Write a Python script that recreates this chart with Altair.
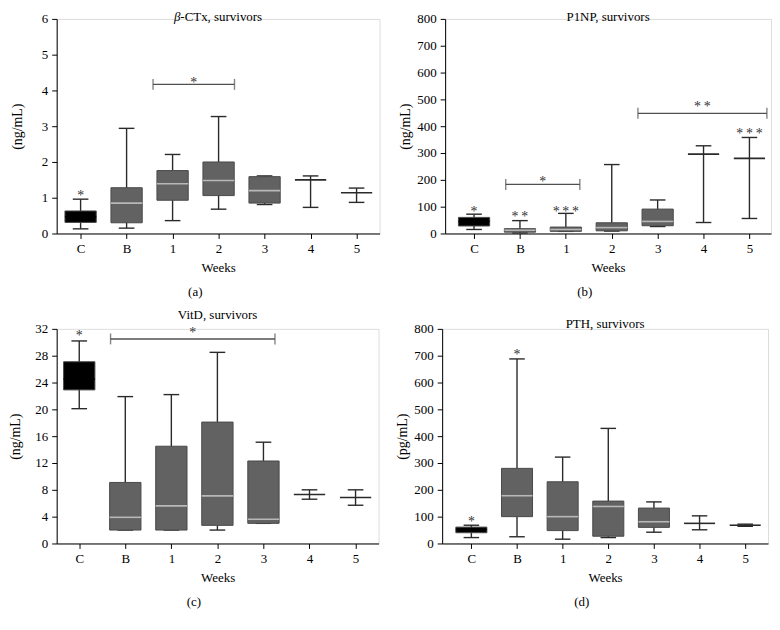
import altair as alt
import pandas as pd

FONT = "Liberation Serif"
groups = ["C", "B", "1", "2", "3", "4", "5"]

# (a) beta-CTx, survivors
a_low = [0.13, 0.15, 0.36, 0.68, 0.81, 0.73, 0.87]
a_q1 = [0.31, 0.30, 0.93, 1.06, 0.85, None, None]
a_med = [0.47, 0.85, 1.39, 1.48, 1.20, 1.50, 1.14]
a_q3 = [0.63, 1.28, 1.76, 2.00, 1.59, None, None]
a_high = [0.96, 2.94, 2.21, 3.27, 1.61, 1.61, 1.27]
a_star_pos = [0]
a_star_val = [1.13]
a_star_txt = ["*"]
a_br_from = [1.575]
a_br_to = [3.346]
a_br_val = [4.17]
a_br_star = [4.30]
a_br_txt = ["*"]

# (b) P1NP, survivors
b_low = [15, 2, 8, 9, 26, 41, 56]
b_q1 = [28, 5, 8, 10, 29, None, None]
b_med = [45, 12, 15, 22, 45, 296, 280]
b_q3 = [60, 18, 24, 40, 91, None, None]
b_high = [72, 48, 75, 257, 125, 327, 358]
b_star_pos = [0, 1, 2, 6]
b_star_val = [92, 74, 93, 383]
b_star_txt = ["*", "\u2009*\u2009*", "*\u2009*\u2009*", "*\u2009*\u2009*"]
b_br_from = [0.69, 3.57]
b_br_to = [2.305, 6.38]
b_br_val = [183, 448]
b_br_star = [204, 481]
b_br_txt = ["*", "*\u2009*"]

# (c) VitD, survivors
c_low = [20.1, 2.0, 2.0, 2.0, 3.0, 6.6, 5.7]
c_q1 = [22.9, 2.0, 2.0, 2.7, 3.0, None, None]
c_med = [24.5, 3.9, 5.6, 7.1, 3.6, 7.3, 6.85]
c_q3 = [27.1, 9.1, 14.5, 18.1, 12.3, None, None]
c_high = [30.2, 21.9, 22.2, 28.5, 15.1, 8.0, 8.0]
c_star_pos = [0]
c_star_val = [31.4]
c_star_txt = ["*"]
c_br_from = [0.68]
c_br_to = [4.25]
c_br_val = [30.5]
c_br_star = [31.9]
c_br_txt = ["*"]

# (d) PTH, survivors
d_low = [22, 25, 16, 22, 42, 51, 64]
d_q1 = [40, 100, 48, 27, 60, None, None]
d_med = [52, 178, 100, 138, 81, 75, 68]
d_q3 = [61, 280, 230, 158, 132, None, None]
d_high = [68, 688, 322, 429, 155, 103, 72]
d_star_pos = [0, 1]
d_star_val = [90, 713]
d_star_txt = ["*", "*"]

label_expr = "[" + ",".join("'%s'" % g for g in groups) + "][datum.value]"

BOX_FILL = "#626262"
MED_COL = "#b8b8b8"
WHISK = "#2a2a2a"
BRACKET = "#505050"
STAR = "#333333"


def panel(name, italic_prefix, ytitle, ymax, ystep, low, q1, med, q3, high,
          star_pos, star_val, star_txt, br_from, br_to, br_val, br_star, br_txt,
          xdom, width, name_y, ytitle_x, caption):
    height = 216
    df = pd.DataFrame({"pos": list(range(len(groups))), "grp": groups, "low": low,
                       "q1": q1, "med": med, "q3": q3, "high": high})
    base = alt.Chart(df).transform_calculate(
        left="datum.pos - 0.34", right="datum.pos + 0.34",
        cl="datum.pos - 0.17", cr="datum.pos + 0.17")

    xscale = alt.Scale(domain=xdom, nice=False, zero=False)
    yscale = alt.Scale(domain=[0, ymax], nice=False)
    xaxis = alt.Axis(values=list(range(len(groups))), labelExpr=label_expr, title="Weeks",
                     grid=False, domainColor="black", tickColor="black", tickSize=5,
                     labelFont=FONT, labelFontSize=13, labelColor="black", labelPadding=4,
                     titleFont=FONT, titleFontSize=13, titleFontWeight="normal",
                     titleColor="black", titlePadding=6)
    yvals = list(range(0, ymax + 1, ystep))
    yaxis = alt.Axis(values=yvals, title=ytitle, grid=False, domainColor="black",
                     tickColor="black", tickSize=5, labelFont=FONT, labelFontSize=13,
                     labelColor="black", labelPadding=4, titleFont=FONT, titleFontSize=14,
                     titleFontWeight="normal", titleColor="black", titleX=ytitle_x,
                     titleBaseline="middle", titleAlign="center")

    def X(f):
        return alt.X(f, type="quantitative", scale=xscale, axis=xaxis)

    def Y(f):
        return alt.Y(f, type="quantitative", scale=yscale, axis=yaxis)

    whisk = base.mark_rule(color=WHISK, strokeWidth=1.4).encode(x=X("pos"), y=Y("low"), y2="high")
    cap_lo = base.mark_rule(color=WHISK, strokeWidth=1.4).encode(x=X("cl"), x2="cr", y=Y("low"))
    cap_hi = base.mark_rule(color=WHISK, strokeWidth=1.4).encode(x=X("cl"), x2="cr", y=Y("high"))
    box = base.transform_filter("isValid(datum.q1)").mark_rect(
        stroke="#4a4a4a", strokeWidth=1).encode(
        x=X("left"), x2="right", y=Y("q1"), y2="q3",
        fill=alt.condition("datum.grp == 'C'", alt.value("black"), alt.value(BOX_FILL)))
    med_rule = base.mark_rule(strokeWidth=1.6).encode(
        x=X("left"), x2="right", y=Y("med"),
        color={"condition": [{"test": "datum.grp == 'C'", "value": "black"},
                             {"test": "!isValid(datum.q1)", "value": WHISK}],
               "value": MED_COL})
    layers = [whisk, cap_lo, cap_hi, box, med_rule]

    sdf = pd.DataFrame({"pos": star_pos, "val": star_val, "txt": star_txt})
    stars = alt.Chart(sdf).mark_text(font=FONT, fontSize=14, color=STAR, baseline="alphabetic",
                                     dy=7).encode(x=X("pos"), y=Y("val"), text="txt")
    layers.append(stars)

    if br_from:
        bdf = pd.DataFrame({"x1": br_from, "x2": br_to, "val": br_val, "sv": br_star, "txt": br_txt})
        bline = alt.Chart(bdf).mark_rule(color=BRACKET, strokeWidth=1.4).encode(
            x=X("x1"), x2="x2", y=Y("val"))
        bends = alt.Chart(bdf).transform_fold(["x1", "x2"], as_=["end", "xe"]).mark_tick(
            orient="vertical", size=11, thickness=1.4, color=BRACKET).encode(x=X("xe"), y=Y("val"))
        bstar = alt.Chart(bdf).mark_text(font=FONT, fontSize=14, color=STAR, baseline="alphabetic",
                                         dy=7).encode(
            x=alt.X("mid:Q", scale=xscale, axis=xaxis), y=Y("sv"), text="txt").transform_calculate(
            mid="(datum.x1 + datum.x2) / 2")
        layers += [bline, bends, bstar]

    ndf = pd.DataFrame({"t": [name]})
    if italic_prefix:
        split = width / 2 - 38
        t1 = alt.Chart(ndf).mark_text(font=FONT, fontSize=13, fontStyle="italic", align="right",
                                      baseline="alphabetic").encode(
            x=alt.value(split), y=alt.value(name_y), text=alt.value(italic_prefix))
        t2 = alt.Chart(ndf).mark_text(font=FONT, fontSize=13, align="left",
                                      baseline="alphabetic").encode(
            x=alt.value(split), y=alt.value(name_y), text="t:N")
        layers += [t1, t2]
    else:
        t = alt.Chart(ndf).mark_text(font=FONT, fontSize=13, align="center",
                                     baseline="alphabetic").encode(
            x=alt.value(width / 2), y=alt.value(name_y), text="t:N")
        layers.append(t)

    return alt.layer(*layers).properties(
        width=width, height=height,
        title=alt.TitleParams(caption, orient="bottom", frame="bounds", anchor="middle",
                              font=FONT, fontSize=13, fontWeight="normal", color="black",
                              offset=12))


pa = panel("-CTx, survivors", "β", "(ng/mL)", 6, 1, a_low, a_q1, a_med, a_q3, a_high,
           a_star_pos, a_star_val, a_star_txt, a_br_from, a_br_to, a_br_val, a_br_star, a_br_txt,
           [-0.52, 6.5], 325, 2, -39, "(a)")
pb = panel("P1NP, survivors", None, "(ng/mL)", 800, 100, b_low, b_q1, b_med, b_q3, b_high,
           b_star_pos, b_star_val, b_star_txt, b_br_from, b_br_to, b_br_val, b_br_star, b_br_txt,
           [-0.63, 6.47], 328, 2, -40, "(b)")
pc = panel("VitD, survivors", None, "(ng/mL)", 32, 4, c_low, c_q1, c_med, c_q3, c_high,
           c_star_pos, c_star_val, c_star_txt, c_br_from, c_br_to, c_br_val, c_br_star, c_br_txt,
           [-0.49, 6.5], 324, -10, -41, "(c)")
pd_ = panel("PTH, survivors", None, "(pg/mL)", 800, 100, d_low, d_q1, d_med, d_q3, d_high,
            d_star_pos, d_star_val, d_star_txt, [], [], [], [], [],
            [-0.64, 6.5], 328, -1, -40, "(d)")

chart = alt.vconcat(
    alt.hconcat(pa, pb, spacing=17),
    alt.hconcat(pc, pd_, spacing=15),
    spacing=8,
).properties(padding=0).configure_view(stroke=None).configure(font=FONT)

chart.save("out.html", embed_options={"renderer": "svg", "actions": False})
